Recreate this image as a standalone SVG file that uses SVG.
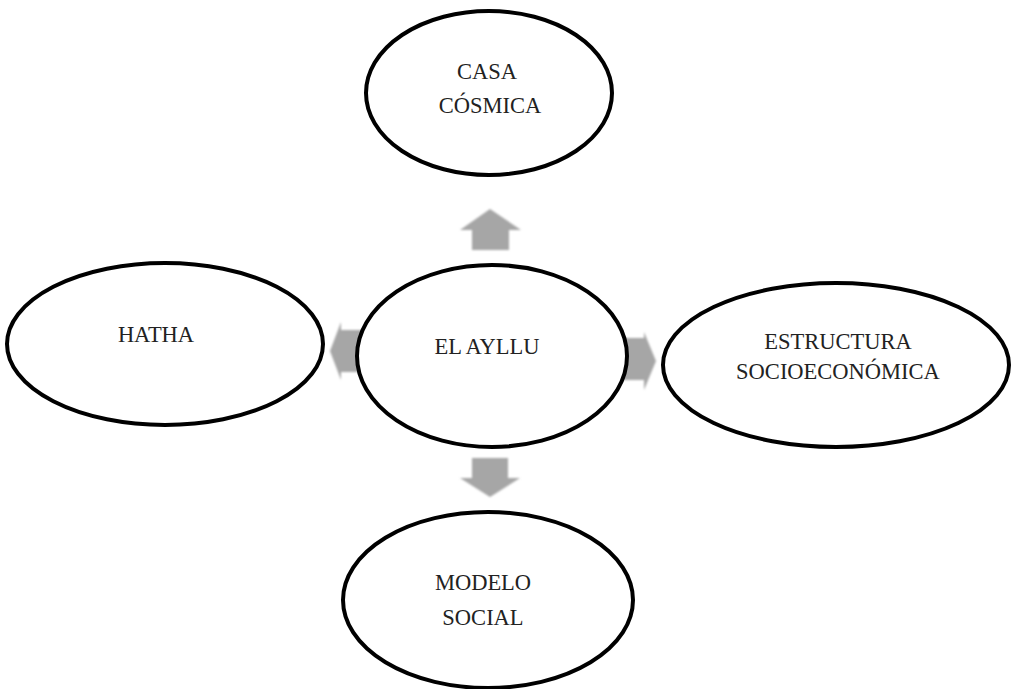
<svg xmlns="http://www.w3.org/2000/svg" width="1013" height="689" viewBox="0 0 1013 689">
<style>
.node ellipse{fill:#fff;stroke:#000;stroke-width:4}
.node text{font-family:"Liberation Serif","Times New Roman",serif;font-size:22.5px;fill:#222;text-anchor:middle}
.arrow{fill:#a6a6a6}
</style>
<defs>
<filter id="soft" x="-20%" y="-20%" width="140%" height="140%"><feGaussianBlur stdDeviation="0.8"/></filter>
</defs>
<rect width="1013" height="689" fill="#fff"/>
<g id="connectors" filter="url(#soft)">
<polygon class="arrow" points="490,209 521,230 509,230 509,250 472,250 472,230 460,230"/>
<polygon class="arrow" points="472,458 508,458 508,478 520,478 490,497 460,478 472,478"/>
<polygon class="arrow" points="330,351 341,322 341,330 362,330 362,372 341,372 341,380"/>
<polygon class="arrow" points="622,338 644,338 644,332 656,361 644,390 644,380 622,380"/>
</g>
<g id="casa-cosmica" class="node">
<ellipse cx="489" cy="93" rx="123" ry="82"/>
<text x="487" y="79">CASA</text>
<text x="490" y="113">CÓSMICA</text>
</g>
<g id="hatha" class="node">
<ellipse cx="165" cy="344" rx="158" ry="81"/>
<text x="156" y="342">HATHA</text>
</g>
<g id="el-ayllu" class="node">
<ellipse cx="492" cy="356" rx="135" ry="91"/>
<text x="487" y="354">EL AYLLU</text>
</g>
<g id="estructura" class="node">
<ellipse cx="836" cy="365" rx="173" ry="82"/>
<text x="838" y="349">ESTRUCTURA</text>
<text x="838" y="379">SOCIOECONÓMICA</text>
</g>
<g id="modelo-social" class="node">
<ellipse cx="488" cy="600" rx="145" ry="88"/>
<text x="483" y="590">MODELO</text>
<text x="483" y="625">SOCIAL</text>
</g>
</svg>
